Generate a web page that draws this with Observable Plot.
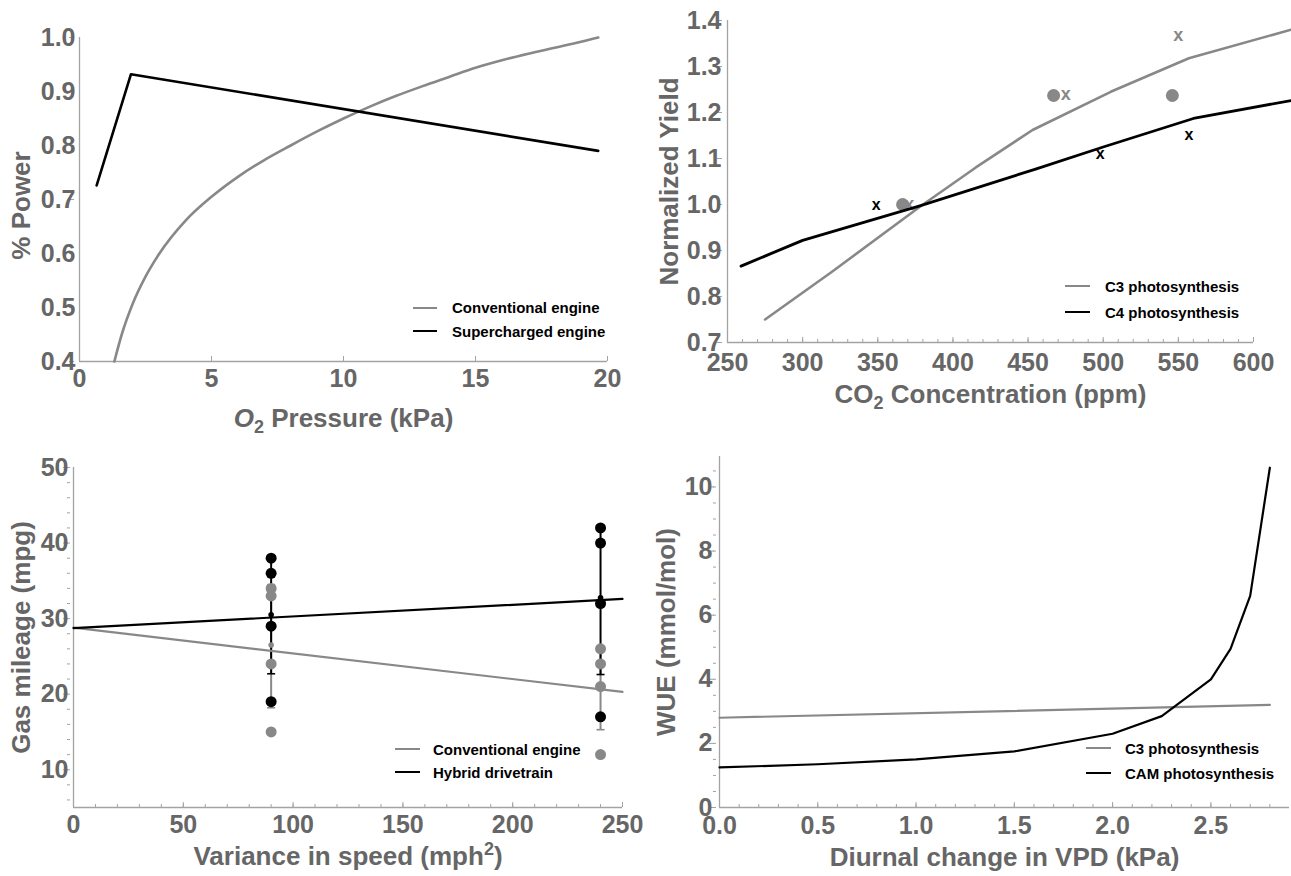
<!DOCTYPE html>
<html>
<head>
<meta charset="utf-8">
<script src="https://cdn.jsdelivr.net/npm/d3@7"></script>
<script src="https://cdn.jsdelivr.net/npm/@observablehq/plot@0.6"></script>
<style>
  body { margin: 0; background: #fff; }
  #root { position: relative; width: 1291px; height: 876px; overflow: hidden; background: #fff;
          font-family: "Liberation Sans", Arial, Helvetica, sans-serif; }
  #root svg { position: absolute; }
  #root svg text { font-weight: bold; }
  .leg { position: absolute; display: flex; align-items: center; white-space: nowrap;
         font: bold 15px "Liberation Sans", Arial, Helvetica, sans-serif; color: #000; line-height: 1; }
  .leg .sw { display: inline-block; height: 0; border-top-style: solid; }
</style>
</head>
<body>
<div id="root"></div>
<script>
// ---------------- DATA ----------------
// Panel A: % Power vs O2 pressure
const o2Pressure        = [1.32, 1.6, 2.0, 2.5, 3.0, 4.0, 5.0, 6.0, 7.0, 8.0, 9.0, 10.0, 11.0, 12.0, 13.0, 14.0, 15.0, 16.0, 17.0, 18.0, 19.0, 19.65];
const powerConventional = [0.40, 0.45, 0.505, 0.557, 0.598, 0.66, 0.705, 0.742, 0.773, 0.80, 0.826, 0.85, 0.872, 0.892, 0.91, 0.927, 0.944, 0.958, 0.97, 0.981, 0.992, 1.0];
const o2Supercharged    = [0.65, 1.95, 19.65];
const powerSupercharged = [0.726, 0.932, 0.79];
const o2Ticks    = [0, 5, 10, 15, 20];
const powerTicks = [0.4, 0.5, 0.6, 0.7, 0.8, 0.9, 1.0];
const legendA = ["Conventional engine", "Supercharged engine"];

// Panel B: Normalized yield vs CO2
const co2C3Line   = [275, 320, 378, 415, 453, 505, 557, 625];
const yieldC3Line = [0.75, 0.855, 0.995, 1.08, 1.162, 1.245, 1.318, 1.38];
const co2C4Line   = [259, 300, 378, 455, 500, 560, 625];
const yieldC4Line = [0.866, 0.922, 0.997, 1.077, 1.125, 1.187, 1.226];
const co2C3Dots   = [366.5, 467, 546];
const yieldC3Dots = [1.0, 1.237, 1.237];
const co2C3Cross   = [371, 475, 550];
const yieldC3Cross = [1.0, 1.239, 1.369];
const co2C4Cross   = [349, 498, 557];
const yieldC4Cross = [1.0, 1.111, 1.151];
const co2Ticks   = [250, 300, 350, 400, 450, 500, 550, 600];
const yieldTicks = [0.7, 0.8, 0.9, 1.0, 1.1, 1.2, 1.3, 1.4];
const legendB = ["C3 photosynthesis", "C4 photosynthesis"];

// Panel C: Gas mileage vs variance in speed
const speedConvPts = [90, 90, 90, 90, 240, 240, 240, 240];
const mpgConvPts   = [34, 33, 24, 15, 26, 24, 21, 12];
const speedHybPts  = [90, 90, 90, 90, 240, 240, 240, 240];
const mpgHybPts    = [38, 36, 29, 19, 42, 40, 32, 17];
const speedFit = [0, 250];
const mpgConvFit = [28.8, 20.3];
const mpgHybFit  = [28.75, 32.6];
const errX       = [90, 240];
const convMean   = [26.5, 20.75];
const convLow    = [18.2, 15.3];
const convHigh   = [34.5, 26.0];
const hybMean    = [30.5, 32.75];
const hybLow     = [22.7, 22.6];
const hybHigh    = [38.0, 42.0];
const speedTicks = [0, 50, 100, 150, 200, 250];
const mpgTicks   = [10, 20, 30, 40, 50];
const legendC = ["Conventional engine", "Hybrid drivetrain"];

// Panel D: WUE vs diurnal change in VPD
const vpdCAM = [0, 0.5, 1.0, 1.5, 2.0, 2.25, 2.5, 2.6, 2.7, 2.8];
const wueCAM = [1.25, 1.35, 1.5, 1.75, 2.3, 2.85, 4.0, 4.95, 6.6, 10.6];
const vpdC3 = [0, 2.8];
const wueC3 = [2.8, 3.2];
const vpdTicks = [0, 0.5, 1.0, 1.5, 2.0, 2.5];
const wueTicks = [0, 2, 4, 6, 8, 10];
const legendD = ["C3 photosynthesis", "CAM photosynthesis"];

// ---------------- STYLE ----------------
const FONT = '"Liberation Sans", Arial, Helvetica, sans-serif';
const TXT = "#666666";
const FRAME = "#a3a3a3";
const GRAY = "#888888";
const BLACK = "#000000";
const TICK_FS = 25;
const root = document.getElementById("root");
const zip = (xs, ys) => xs.map((x, i) => ({x, y: ys[i]}));

const capSymbol = { draw(ctx) { ctx.moveTo(-4, 0); ctx.lineTo(4, 0); } };

function fixLabel(svg, key, parts, shift) {
  const t = [...svg.querySelectorAll("text")].find(e => e.textContent.includes(key));
  if (!t) return;
  t.setAttribute("font-size", "26");
  if (shift) t.setAttribute("dx", shift);
  while (t.firstChild) t.removeChild(t.firstChild);
  for (const p of parts) {
    const ts = document.createElementNS("http://www.w3.org/2000/svg", "tspan");
    ts.textContent = p.t;
    if (p.i) ts.setAttribute("font-style", "italic");
    if (p.sub) { ts.setAttribute("font-size", "18"); ts.setAttribute("dy", "6"); }
    if (p.sup) { ts.setAttribute("font-size", "18"); ts.setAttribute("dy", "-10"); }
    if (p.back) ts.setAttribute("dy", p.back);
    t.appendChild(ts);
  }
}

function panel(c) {
  const [mt, mr, mb, ml] = c.m;
  const svg = Plot.plot({
    width: c.w, height: c.h,
    marginTop: mt, marginRight: mr, marginBottom: mb, marginLeft: ml,
    style: { fontFamily: FONT, fontWeight: "bold", background: "transparent", overflow: "visible" },
    x: { domain: c.xDomain },
    y: { domain: c.yDomain },
    marks: [
      Plot.ruleY([c.yDomain[0]], { stroke: FRAME, strokeWidth: 1.3 }),
      Plot.ruleX([c.xDomain[0]], { stroke: FRAME, strokeWidth: 1.3 }),
      c.xMinor ? Plot.axisX(c.xMinor, { tickSize: 3, dy: -3, fill: "none", label: null, stroke: FRAME }) : null,
      c.yMinor ? Plot.axisY(c.yMinor, { tickSize: 3, dx: -3, fill: "none", label: null, stroke: FRAME }) : null,
      Plot.axisX(c.xTicks, { tickSize: 5, dy: -5, fill: "none", label: null, stroke: FRAME }),
      Plot.axisY(c.yTicks, { tickSize: 5, dx: -5, fill: "none", label: null, stroke: FRAME }),
      Plot.axisX(c.xTicks, { tickSize: 0, tickPadding: c.xPad, tickFormat: c.xFormat, fontSize: TICK_FS, fontWeight: "bold",
        fill: TXT, label: "XLBL", labelAnchor: "center", labelArrow: "none", labelOffset: c.xLabelOffset }),
      Plot.axisY(c.yTicks, { tickSize: 0, tickPadding: c.yPad, tickFormat: c.yFormat, fontSize: TICK_FS, fontWeight: "bold",
        fill: TXT, label: "YLBL", labelAnchor: "center", labelArrow: "none", labelOffset: c.yLabelOffset }),
      ...c.marks
    ]
  });
  fixLabel(svg, "XLBL", c.xLabel, 0);
  fixLabel(svg, "YLBL", c.yLabel, c.yShift || 0);
  svg.style.left = c.left + "px";
  svg.style.top = c.top + "px";
  root.appendChild(svg);
}

function legend(x, rows) {
  rows.forEach(r => {
    const d = document.createElement("div");
    d.className = "leg";
    d.style.left = x + "px";
    d.style.top = (r.cy - 7.5) + "px";
    const sw = document.createElement("span");
    sw.className = "sw";
    sw.style.width = r.w + "px";
    sw.style.marginRight = r.g + "px";
    sw.style.borderTopWidth = r.sw + "px";
    sw.style.borderTopColor = r.c;
    const tx = document.createElement("span");
    tx.textContent = r.t;
    d.appendChild(sw); d.appendChild(tx);
    root.appendChild(d);
  });
}

const f1 = d3.format(".1f");

// ---------------- PANEL A ----------------
panel({
  left: 0, top: 0, w: 645, h: 438, m: [37, 38, 77, 79],
  xDomain: [0, 20], yDomain: [0.4, 1.0],
  xTicks: o2Ticks, yTicks: powerTicks, xFormat: d3.format("d"), yFormat: f1,
  xPad: 8, yPad: 4, xLabelOffset: 65, yLabelOffset: 68, yShift: -6,
  xLabel: [{t: "O", i: true}, {t: "2", sub: true}, {t: " Pressure (kPa)", back: "-6"}],
  yLabel: [{t: "% Power"}],
  marks: [
    Plot.line(zip(o2Pressure, powerConventional), { x: "x", y: "y", stroke: GRAY, strokeWidth: 2.6, curve: "monotone-x" }),
    Plot.line(zip(o2Supercharged, powerSupercharged), { x: "x", y: "y", stroke: BLACK, strokeWidth: 2.6 })
  ]
});
legend(413, [
  {t: legendA[0], c: GRAY, w: 24, g: 15, sw: 2, cy: 307.5},
  {t: legendA[1], c: BLACK, w: 24, g: 15, sw: 2.5, cy: 331}
]);

// ---------------- PANEL B ----------------
panel({
  left: 645, top: 0, w: 646, h: 438, m: [20, 38, 96, 82],
  xDomain: [250, 600], yDomain: [0.7, 1.4],
  xTicks: co2Ticks, yTicks: yieldTicks, xMinor: d3.range(250, 601, 10), xFormat: d3.format("d"), yFormat: f1,
  xPad: 11, yPad: 6, xLabelOffset: 60, yLabelOffset: 68,
  xLabel: [{t: "CO"}, {t: "2", sub: true}, {t: " Concentration (ppm)", back: "-6"}],
  yLabel: [{t: "Normalized Yield"}],
  marks: [
    Plot.dot(zip(co2C3Dots, yieldC3Dots), { x: "x", y: "y", r: 6.5, fill: GRAY }),
    Plot.text(zip(co2C3Cross, yieldC3Cross), { x: "x", y: "y", text: () => "x", fontSize: 18, fontWeight: "bold", fill: GRAY }),
    Plot.text(zip(co2C4Cross, yieldC4Cross), { x: "x", y: "y", text: () => "x", fontSize: 16, fontWeight: "bold", fill: BLACK }),
    Plot.line(zip(co2C3Line, yieldC3Line), { x: "x", y: "y", stroke: GRAY, strokeWidth: 2.6 }),
    Plot.line(zip(co2C4Line, yieldC4Line), { x: "x", y: "y", stroke: BLACK, strokeWidth: 2.8 })
  ]
});
legend(1065, [
  {t: legendB[0], c: GRAY, w: 25, g: 15, sw: 2, cy: 286},
  {t: legendB[1], c: BLACK, w: 25, g: 15, sw: 2.5, cy: 312}
]);

// ---------------- PANEL C ----------------
const convErr = errX.map((x, i) => ({x, mean: convMean[i], lo: convLow[i], hi: convHigh[i]}));
const hybErr  = errX.map((x, i) => ({x, mean: hybMean[i], lo: hybLow[i], hi: hybHigh[i]}));
panel({
  left: 0, top: 438, w: 645, h: 438, m: [29, 23, 69, 73],
  xDomain: [0, 250], yDomain: [5, 50],
  xTicks: speedTicks, yTicks: mpgTicks, xMinor: d3.range(0, 251, 10), yMinor: d3.range(6, 51, 2),
  xFormat: d3.format("d"), yFormat: d3.format("d"),
  xPad: 8, yPad: 5, xLabelOffset: 57, yLabelOffset: 62,
  xLabel: [{t: "Variance in speed (mph"}, {t: "2", sup: true}, {t: ")", back: "10"}],
  yLabel: [{t: "Gas mileage (mpg)"}],
  marks: [
    Plot.ruleX(convErr, { x: "x", y1: "lo", y2: "hi", stroke: GRAY, strokeWidth: 2 }),
    Plot.dot(convErr, { x: "x", y: "lo", symbol: capSymbol, stroke: GRAY, strokeWidth: 1.6, fill: "none" }),
    Plot.dot(convErr, { x: "x", y: "hi", symbol: capSymbol, stroke: GRAY, strokeWidth: 1.6, fill: "none" }),
    Plot.ruleX(hybErr, { x: "x", y1: "lo", y2: "hi", stroke: BLACK, strokeWidth: 2 }),
    Plot.dot(hybErr, { x: "x", y: "lo", symbol: capSymbol, stroke: BLACK, strokeWidth: 1.6, fill: "none" }),
    Plot.dot(hybErr, { x: "x", y: "hi", symbol: capSymbol, stroke: BLACK, strokeWidth: 1.6, fill: "none" }),
    Plot.line(zip(speedFit, mpgConvFit), { x: "x", y: "y", stroke: GRAY, strokeWidth: 2.2 }),
    Plot.line(zip(speedFit, mpgHybFit), { x: "x", y: "y", stroke: BLACK, strokeWidth: 2.2 }),
    Plot.dot(convErr, { x: "x", y: "mean", r: 2.8, fill: GRAY }),
    Plot.dot(hybErr, { x: "x", y: "mean", r: 2.8, fill: BLACK }),
    Plot.dot(zip(speedConvPts, mpgConvPts), { x: "x", y: "y", r: 5.5, fill: GRAY }),
    Plot.dot(zip(speedHybPts, mpgHybPts), { x: "x", y: "y", r: 5.5, fill: BLACK })
  ]
});
legend(395, [
  {t: legendC[0], c: GRAY, w: 25, g: 13, sw: 2, cy: 749},
  {t: legendC[1], c: BLACK, w: 25, g: 13, sw: 2.5, cy: 772}
]);

// ---------------- PANEL D ----------------
panel({
  left: 645, top: 438, w: 646, h: 438, m: [18, 2, 69, 74],
  xDomain: [0, 2.9], yDomain: [0, 10.95],
  xTicks: vpdTicks, yTicks: wueTicks, xMinor: d3.range(0, 2.9, 0.1), yMinor: d3.range(0, 10.9, 0.5),
  xFormat: f1, yFormat: d3.format("d"),
  xPad: 9, yPad: 7, xLabelOffset: 58, yLabelOffset: 63,
  xLabel: [{t: "Diurnal change in VPD (kPa)"}],
  yLabel: [{t: "WUE (mmol/mol)"}],
  marks: [
    Plot.line(zip(vpdC3, wueC3), { x: "x", y: "y", stroke: GRAY, strokeWidth: 2.2 }),
    Plot.line(zip(vpdCAM, wueCAM), { x: "x", y: "y", stroke: BLACK, strokeWidth: 2.2 })
  ]
});
legend(1086, [
  {t: legendD[0], c: GRAY, w: 25, g: 14, sw: 2, cy: 748},
  {t: legendD[1], c: BLACK, w: 25, g: 14, sw: 2.5, cy: 773}
]);
</script>
</body>
</html>
